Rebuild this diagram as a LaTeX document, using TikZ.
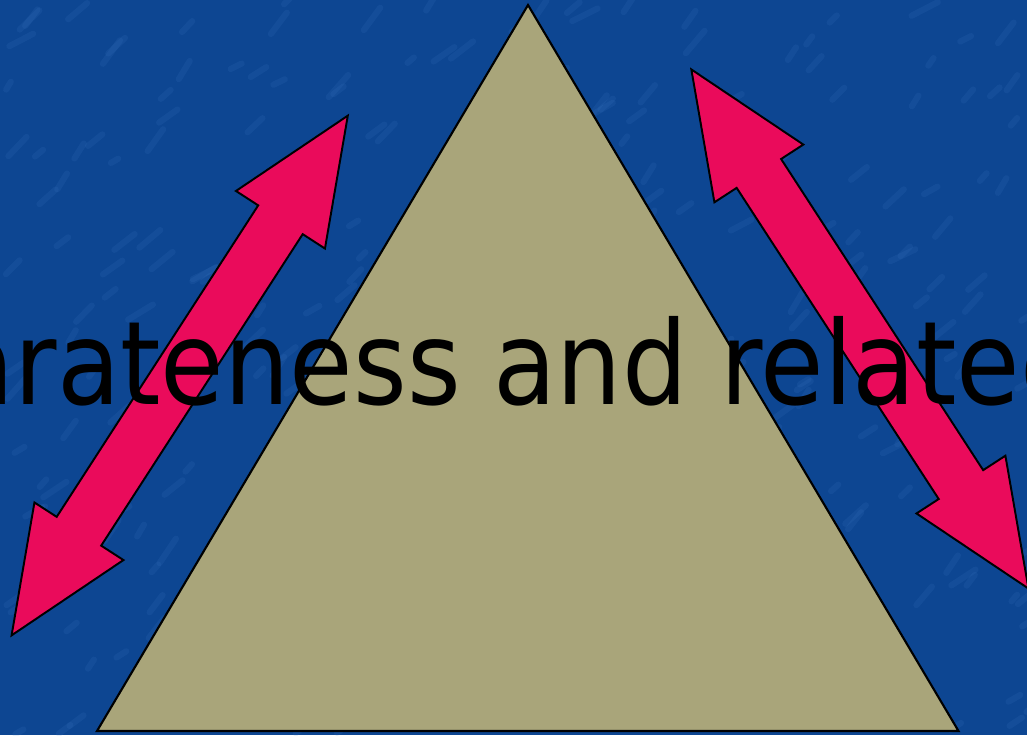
\documentclass[tikz,border=0pt]{standalone}
\usepackage{fontspec}
\setmainfont{DejaVu Sans}
\usetikzlibrary{calc}
\definecolor{slideblue}{RGB}{13,70,146}
\definecolor{streakblue}{RGB}{70,130,205}
\definecolor{khaki}{RGB}{169,165,122}
\definecolor{hotpink}{RGB}{234,11,91}
\tikzset{
  bg/.style     = {fill=slideblue},
  streak/.style = {streakblue, line width=3.5pt, line cap=round, opacity=0.13},
  tri/.style    = {fill=khaki, draw=black, line width=1.2pt, line join=miter},
  arr/.style    = {fill=hotpink, draw=black, line width=1.1pt, line join=miter},
  lbl/.style    = {font=\fontsize{66pt}{70pt}\selectfont, text=black,
                   inner sep=0pt, anchor=base},
  dblarr/.pic = {
    \draw[arr] (309.5,0) -- (185.5,53) -- (185.5,26.5) -- (-185.5,26.5)
      -- (-185.5,53) -- (-309.5,0) -- (-185.5,-53) -- (-185.5,-26.5)
      -- (185.5,-26.5) -- (185.5,-53) -- cycle;
  }
}
\begin{document}
\begin{tikzpicture}[x=0.02cm, y=-0.02cm]
  \useasboundingbox (0,0) rectangle (1027,735);
  \clip (0,0) rectangle (1027,735);

  %% Background
  \fill[bg] (0,0) rectangle (1027,735);
  \pgfmathsetseed{42}
  \foreach \k in {1,...,300}{
    \pgfmathsetmacro\sx{rnd*1027}
    \pgfmathsetmacro\sy{rnd*735}
    \pgfmathsetmacro\sl{8+rnd*22}
    \pgfmathsetmacro\sa{-25-rnd*35}
    \draw[streak] (\sx,\sy) -- ++(\sa:\sl);
  }

  %% Triangle
  \coordinate (Top)   at (528,5);
  \coordinate (Left)  at (97,731);
  \coordinate (Right) at (958.5,731);
  \draw[tri] (Top) -- (Left) -- (Right) -- cycle;

  %% Double arrows
  \pic[rotate=57.1]  (larr) at (179.7,375.5) {dblarr};
  \pic[rotate=123.0] (rarr) at (859.9,329.0) {dblarr};

  %% Title
  \node[lbl] (title) at (539.5,404) {\scalebox{0.89}[1]{Separateness and relatedness}};
\end{tikzpicture}
\end{document}
